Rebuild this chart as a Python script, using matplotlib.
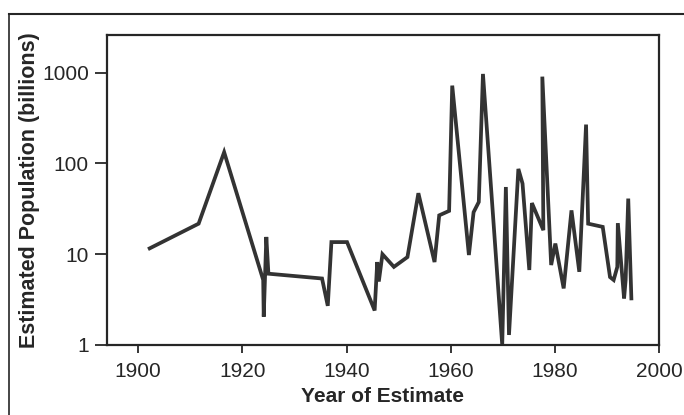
import matplotlib
matplotlib.use("Agg")
import matplotlib.pyplot as plt
from matplotlib.lines import Line2D

# Data (year of estimate, estimated population in billions)
years = [1902.2, 1911.6, 1916.5, 1924.0, 1924.1, 1924.6, 1925.0, 1935.3, 1936.4,
         1937.1, 1940.1, 1945.4, 1945.9, 1946.2, 1946.9, 1949.1, 1951.7, 1953.8,
         1956.9, 1957.8, 1959.7, 1960.3, 1963.5, 1964.4, 1965.4, 1966.2, 1969.9,
         1970.6, 1971.2, 1973.0, 1973.8, 1975.1, 1975.6, 1977.8, 1977.6, 1979.3,
         1980.1, 1981.7, 1983.2, 1984.7, 1986.0, 1986.4, 1989.2, 1990.6, 1991.3,
         1992.0, 1992.1, 1993.3, 1993.6, 1994.1, 1994.7]
population = [11.6, 21.7, 133, 5.2, 2.05, 15.5, 6.1, 5.4, 2.7,
              13.6, 13.6, 2.4, 8.2, 5.0, 10.0, 7.25, 9.3, 47,
              8.2, 26.8, 30, 720, 9.8, 29, 37.6, 968, 1.0,
              55, 1.29, 87, 60, 6.7, 36.6, 18.4, 904, 7.6,
              13.1, 4.2, 30.4, 6.4, 268, 21.7, 20, 5.6, 5.2,
              7.25, 22, 3.26, 5.2, 41, 3.26]

x_ticks = [1900, 1920, 1940, 1960, 1980, 2000]
y_ticks = [1, 10, 100, 1000]
y_tick_labels = ["1", "10", "100", "1000"]

plt.rcParams['font.family'] = ['Liberation Sans', 'DejaVu Sans']

fig = plt.figure(figsize=(6.84, 4.15), dpi=100)
ax = fig.add_axes([0.1564, 0.1687, 0.807, 0.7470])

ink = "#262626"
ax.plot(years, population, color="#333333", lw=2.7, solid_joinstyle="miter")
ax.set_yscale("log")
ax.set_xlim(1894, 2000)
ax.set_ylim(1, 2600)
ax.set_xticks(x_ticks)
ax.set_xticklabels([str(t) for t in x_ticks])
ax.set_yticks(y_ticks)
ax.set_yticklabels(y_tick_labels)
ax.yaxis.set_minor_locator(matplotlib.ticker.NullLocator())

for s in ax.spines.values():
    s.set_linewidth(1.6)
    s.set_color(ink)
ax.tick_params(axis="x", length=6, width=1.3, pad=6.5, labelsize=15, colors=ink)
ax.tick_params(axis="y", length=9, width=1.3, pad=4, labelsize=15, colors=ink)

ax.set_xlabel("Year of Estimate", fontsize=15, fontweight="bold", color=ink)
ax.set_ylabel("Estimated Population (billions)", fontsize=15.5, fontweight="bold", color=ink)
ax.xaxis.set_label_coords(0.5, -0.135)
ax.yaxis.set_label_coords(-0.121, 0.5)

# outer frame lines of the scanned page
fig.add_artist(Line2D([0.013, 1.0], [0.966, 0.966], color=ink, lw=1.5, transform=fig.transFigure))
fig.add_artist(Line2D([0.013, 0.013], [0.0, 0.966], color=ink, lw=1.2, transform=fig.transFigure))

fig.savefig("out.png", dpi=100)
